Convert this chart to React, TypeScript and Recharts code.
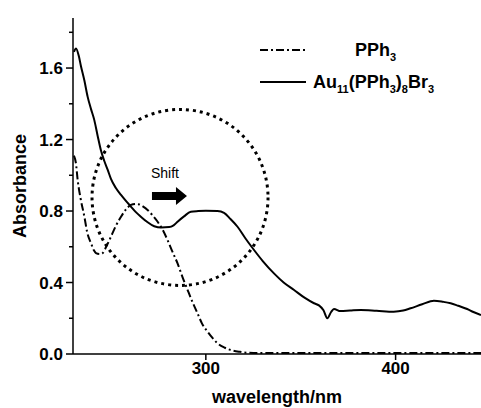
import { LineChart, Line, XAxis, YAxis, ReferenceDot } from 'recharts'

const auWavelength = [230.5, 231.6, 233, 234.2, 236, 237.7, 239.5, 241.2, 243, 244.7, 246.5, 248.3, 250, 252.5, 255.3, 258, 260.5, 263, 265.8, 269, 272.8, 276.5, 280.7, 283, 285.1, 288.5, 292.1, 296, 300, 306.1, 309.6, 313, 316.7, 321, 325.4, 330, 335.9, 341, 346.5, 352, 357, 359.6, 362, 364, 366, 367.5, 371, 376, 381.6, 390, 399, 404, 407.9, 414, 420.2, 425, 429, 433, 437.7, 441, 445]
const auAbsorbance = [1.69, 1.71, 1.67, 1.61, 1.53, 1.44, 1.37, 1.31, 1.22, 1.14, 1.08, 1.03, 0.98, 0.93, 0.89, 0.855, 0.825, 0.795, 0.768, 0.74, 0.715, 0.708, 0.71, 0.72, 0.74, 0.77, 0.796, 0.8, 0.802, 0.8, 0.79, 0.755, 0.712, 0.645, 0.582, 0.52, 0.451, 0.4, 0.358, 0.315, 0.284, 0.272, 0.245, 0.2, 0.235, 0.252, 0.24, 0.243, 0.246, 0.242, 0.237, 0.243, 0.256, 0.278, 0.298, 0.292, 0.284, 0.27, 0.252, 0.235, 0.218]

const pphWavelength = [230.5, 231.5, 232.5, 234, 236, 237.5, 239.5, 241, 242.1, 244, 245.6, 247.5, 250, 252.5, 255.3, 258, 260.5, 263, 264.5, 267, 269.3, 272, 274.6, 277, 279.8, 282.5, 285.1, 287.7, 290.4, 293, 295.6, 298, 300.9, 303.5, 306.1, 310, 313.2, 318, 322, 330, 445]
const pphAbsorbance = [1.11, 1.07, 0.97, 0.87, 0.768, 0.68, 0.62, 0.58, 0.565, 0.56, 0.565, 0.6, 0.656, 0.715, 0.768, 0.81, 0.834, 0.84, 0.838, 0.825, 0.806, 0.775, 0.74, 0.7, 0.638, 0.57, 0.507, 0.43, 0.358, 0.29, 0.228, 0.17, 0.125, 0.09, 0.06, 0.035, 0.022, 0.012, 0.007, 0.005, 0.005]

const xTicks = [300, 400]
const yTicks = [0, 0.2, 0.4, 0.6, 0.8, 1.0, 1.2, 1.4, 1.6, 1.8]

const auData = auWavelength.map((wl, i) => ({ wl, abs: auAbsorbance[i] }))
const pphData = pphWavelength.map((wl, i) => ({ wl, abs: pphAbsorbance[i] }))

const font = '"Liberation Sans", Arial, sans-serif'

const YTick = (props: any) => {
  const { x, y, payload } = props
  const major = Math.round(payload.value * 10) % 4 === 0
  return (
    <g>
      <line x1={x} x2={x - (major ? 7 : 4)} y1={y} y2={y} stroke="#000" strokeWidth={1.5} />
      {major && (
        <text x={x - 10} y={y} dy={6} textAnchor="end" fontSize={17} fontWeight="bold" fontFamily={font} fill="#000">
          {payload.value.toFixed(1)}
        </text>
      )}
    </g>
  )
}

const ShiftArrow = (props: any) => {
  const { cx, cy } = props
  return (
    <g>
      <text x={cx - 5} y={cy - 18} textAnchor="middle" fontSize={14} fontFamily={font} fill="#000">Shift</text>
      <polygon
        fill="#000"
        points={`${cx - 18},${cy - 4} ${cx + 6},${cy - 4} ${cx + 6},${cy - 9} ${cx + 17},${cy} ${cx + 6},${cy + 9} ${cx + 6},${cy + 4} ${cx - 18},${cy + 4}`}
      />
    </g>
  )
}

// legend drawn as an overlay so it doesn't eat into the plot area
const SeriesKey = () => (
  <svg width={200} height={60} style={{ position: 'absolute', left: 258, top: 38, fontFamily: font }}>
    <line x1={2} x2={48} y1={12} y2={12} stroke="#000" strokeWidth={2} strokeDasharray="8 3 2 3" />
    <text x={97} y={18} fontSize={18} fontWeight="bold" fill="#000">
      PPh<tspan fontSize={11} dy={5}>3</tspan>
    </text>
    <line x1={2} x2={48} y1={44} y2={44} stroke="#000" strokeWidth={2} />
    <text x={55} y={50} fontSize={18} fontWeight="bold" fill="#000">
      Au<tspan fontSize={11} dy={5}>11</tspan>
      <tspan dy={-5}>(PPh</tspan>
      <tspan fontSize={11} dy={5}>3</tspan>
      <tspan dy={-5}>)</tspan>
      <tspan fontSize={11} dy={5}>8</tspan>
      <tspan dy={-5}>Br</tspan>
      <tspan fontSize={11} dy={5}>3</tspan>
    </text>
  </svg>
)

export default function App() {
  return (
    <div style={{ position: 'absolute', left: 0, top: 0, width: 481, height: 408, background: '#fff' }}>
      <LineChart width={481} height={408} margin={{ top: 18, right: 0, bottom: 0, left: 0 }}>
        <XAxis
          dataKey="wl"
          type="number"
          domain={[230, 445]}
          ticks={xTicks}
          allowDataOverflow
          height={54}
          stroke="#000"
          strokeWidth={1.5}
          tickSize={6}
          tick={{ fill: '#000', fontSize: 17, fontWeight: 'bold', fontFamily: font }}
          label={{ value: 'wavelength/nm', position: 'insideBottom', offset: 5, fill: '#000', fontSize: 18, fontWeight: 'bold', fontFamily: font }}
        />
        <YAxis
          type="number"
          domain={[0, 1.88]}
          ticks={yTicks}
          allowDataOverflow
          width={73}
          stroke="#000"
          strokeWidth={1.5}
          tickLine={false}
          tickSize={0}
          tickMargin={0}
          interval={0}
          tick={<YTick />}
          label={{ value: 'Absorbance', angle: -90, position: 'insideLeft', offset: 20, fill: '#000', fontSize: 18, fontWeight: 'bold', fontFamily: font, style: { textAnchor: 'middle' } }}
        />
        <ReferenceDot x={286.4} y={0.876} r={88} fill="none" stroke="#000" strokeWidth={3} strokeDasharray="3 4" />
        <ReferenceDot x={281.1} y={0.884} r={1} shape={<ShiftArrow />} />
        <Line data={pphData} dataKey="abs" name="PPh3" type="monotone" stroke="#000" strokeWidth={2} strokeDasharray="8 3 2 3" dot={false} isAnimationActive={false} />
        <Line data={auData} dataKey="abs" name="Au11(PPh3)8Br3" type="monotone" stroke="#000" strokeWidth={2} dot={false} isAnimationActive={false} />
      </LineChart>
      <SeriesKey />
    </div>
  )
}
